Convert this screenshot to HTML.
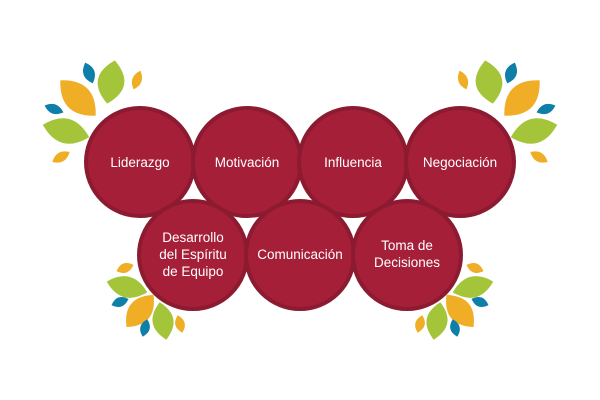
<!DOCTYPE html>
<html><head><meta charset="utf-8"><style>
body{margin:0;background:#fff}
svg{display:block}
text{font-family:"Liberation Sans",sans-serif;fill:#fff;font-size:13.5px;text-anchor:middle}
</style></head><body>
<svg width="600" height="400" viewBox="0 0 600 400">
<defs>
<path id="lf" d="M0,-1 Q1.9,0 0,1 Q-1.9,0 0,-1Z"/>
<g id="tl">
<use href="#lf" fill="#0e7fa8" transform="translate(89,73) rotate(-20) scale(6,11)"/>
<use href="#lf" fill="#a4c43a" transform="translate(111,82) rotate(10) scale(14,22)"/>
<use href="#lf" fill="#efae25" transform="translate(137,80) rotate(20) scale(5,10)"/>
<use href="#lf" fill="#efae25" transform="translate(78,98) rotate(-45) scale(14,25)"/>
<use href="#lf" fill="#0e7fa8" transform="translate(54,109) rotate(-70) scale(5,10)"/>
<use href="#lf" fill="#a4c43a" transform="translate(66,131) rotate(-75) scale(13,24)"/>
<use href="#lf" fill="#efae25" transform="translate(61,157) rotate(60) scale(5,10)"/>
</g>
<g id="bl">
<use href="#lf" fill="#efae25" transform="translate(125,268) rotate(70) scale(5,9)"/>
<use href="#lf" fill="#a4c43a" transform="translate(127,287) rotate(-75) scale(11,21)"/>
<use href="#lf" fill="#0e7fa8" transform="translate(120,302) rotate(70) scale(5,9)"/>
<use href="#lf" fill="#efae25" transform="translate(140,311) rotate(40) scale(12,21)"/>
<use href="#lf" fill="#0e7fa8" transform="translate(145,328) rotate(15) scale(5,9)"/>
<use href="#lf" fill="#a4c43a" transform="translate(163,321) rotate(-10) scale(11,19)"/>
<use href="#lf" fill="#efae25" transform="translate(180,324) rotate(-15) scale(5,9)"/>
</g>
</defs>
<use href="#tl"/>
<use href="#tl" transform="translate(600,0) scale(-1,1)"/>
<use href="#bl"/>
<use href="#bl" transform="translate(600,0) scale(-1,1)"/>
<g fill="#a51f38" stroke="#8c1a30" stroke-width="4">
<circle cx="140" cy="162" r="54"/>
<circle cx="247" cy="162" r="54"/>
<circle cx="353" cy="162" r="54"/>
<circle cx="460" cy="162" r="54"/>
<circle cx="193" cy="255" r="54"/>
<circle cx="300" cy="255" r="54"/>
<circle cx="407" cy="255" r="54"/>
</g>
<text x="140" y="167">Liderazgo</text>
<text x="247" y="167">Motivación</text>
<text x="353" y="167">Influencia</text>
<text x="460" y="167">Negociación</text>
<text x="193" y="242">Desarrollo</text>
<text x="193" y="259">del Espíritu</text>
<text x="193" y="276">de Equipo</text>
<text x="300" y="259">Comunicación</text>
<text x="407" y="250">Toma de</text>
<text x="407" y="267">Decisiones</text>
</svg>
</body></html>
